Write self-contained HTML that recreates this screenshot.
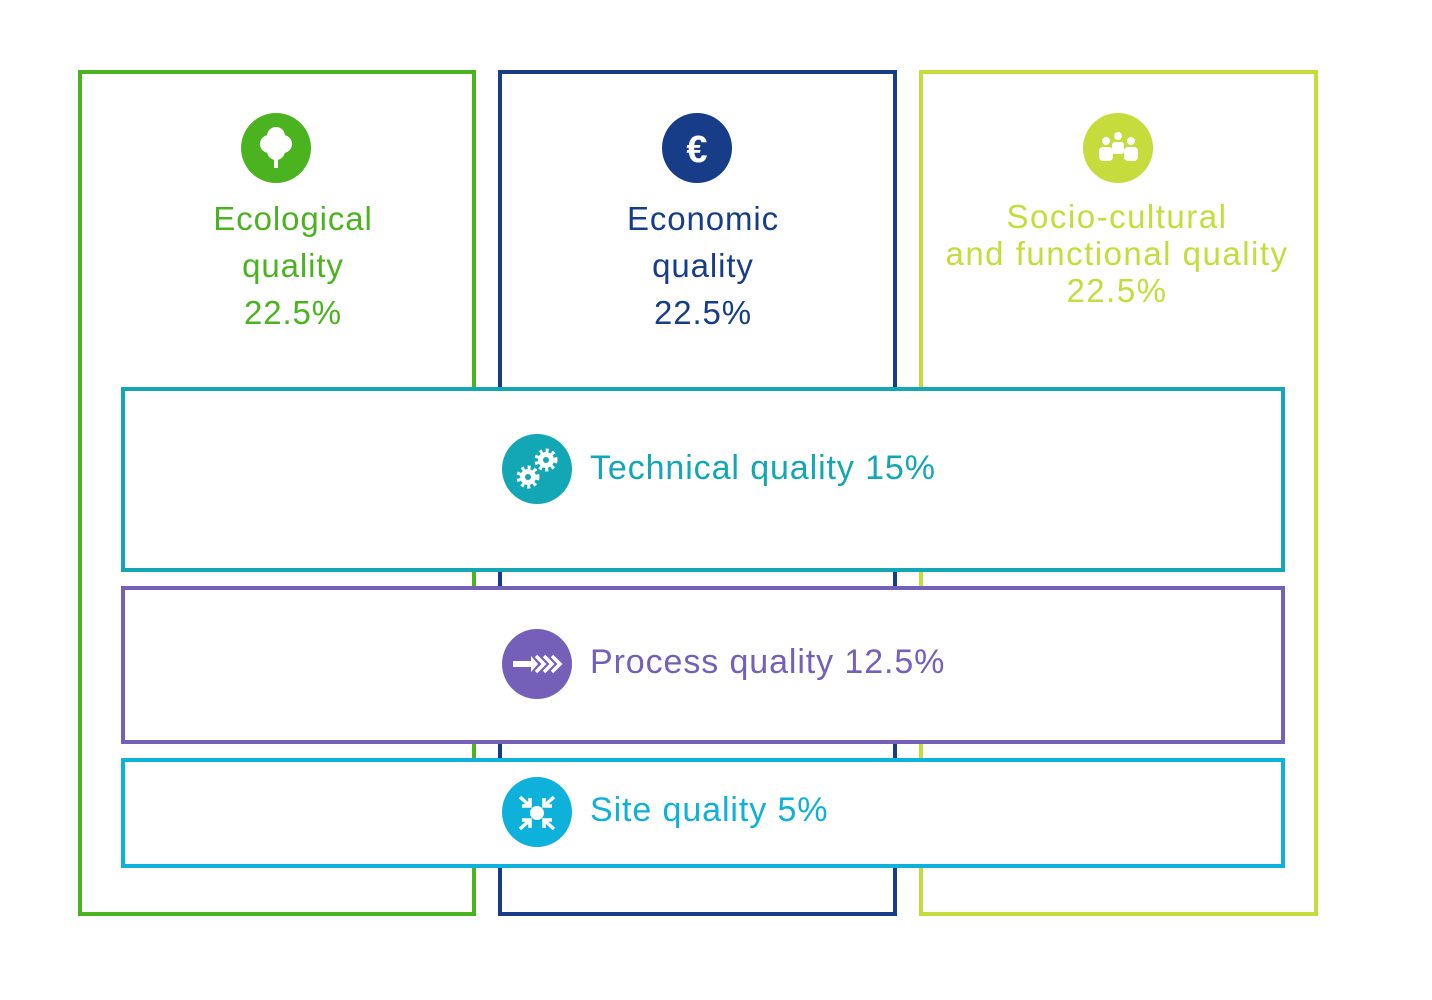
<!DOCTYPE html>
<html><head><meta charset="utf-8"><style>
body{margin:0;width:1432px;height:1000px;background:#fff;position:relative;overflow:hidden;font-family:"Liberation Sans",sans-serif}
.b{position:absolute;box-sizing:border-box;border:4px solid;background:transparent}
.w{background:#fff}
.c{position:absolute;width:70px;height:70px;border-radius:50%}
.t{position:absolute;text-align:center;font-size:33px;line-height:47px;letter-spacing:0.9px}
.l{position:absolute;font-size:34px;line-height:40px;white-space:nowrap;letter-spacing:0.9px}
svg{position:absolute;left:0;top:0}
</style></head><body>
<div class="b" style="left:78px;top:70px;width:398px;height:846px;border-color:#4cb320"></div>
<div class="b" style="left:498px;top:70px;width:399px;height:846px;border-color:#173d88"></div>
<div class="b" style="left:919px;top:70px;width:399px;height:846px;border-color:#c5dc3c"></div>
<div class="b w" style="left:121px;top:387px;width:1164px;height:185px;border-color:#13a7b6"></div>
<div class="b w" style="left:121px;top:586px;width:1164px;height:158px;border-color:#7560b9"></div>
<div class="b w" style="left:121px;top:758px;width:1164px;height:110px;border-color:#0db1d9"></div>

<div class="c" style="left:241px;top:113px;background:#4cb320"></div>
<div class="c" style="left:662px;top:113px;background:#173d88"></div>
<div class="c" style="left:1083px;top:113px;background:#c5dc3c"></div>
<div class="c" style="left:502px;top:434px;background:#13a7b6"></div>
<div class="c" style="left:502px;top:629px;background:#7560b9"></div>
<div class="c" style="left:502px;top:777px;background:#0db1d9"></div>

<svg width="1432" height="1000">
 <g fill="#fff">
  <circle cx="269" cy="144" r="9"/><circle cx="283" cy="144" r="9"/><circle cx="276" cy="136" r="9"/><circle cx="276" cy="151" r="9"/>
  <rect x="274" y="150" width="4" height="18"/>
  <circle cx="1106" cy="141" r="4"/><circle cx="1118" cy="136" r="4"/><circle cx="1131" cy="141" r="4"/>
  <rect x="1099" y="147" width="14" height="14" rx="4"/><rect x="1124" y="147" width="14" height="14" rx="4"/><rect x="1112" y="142" width="12" height="12" rx="3"/>
  <circle cx="528" cy="477" r="8"/><circle cx="546" cy="460" r="8"/>
  <circle cx="537" cy="813" r="7"/>
  <polygon points="513,661 531,661 531,656 538,664 531,672 531,667 513,667"/>
 </g>
 <g stroke="#fff" stroke-width="4" stroke-dasharray="3 3.3">
  <circle cx="528" cy="477" r="9.5" fill="none"/><circle cx="546" cy="460" r="9.5" fill="none"/>
 </g>
 <g fill="#13a7b6"><circle cx="528" cy="477" r="3"/><circle cx="546" cy="460" r="3"/></g>
 <g stroke="#fff" stroke-width="3.5" fill="none">
  <polyline points="536,656 544,664 536,672"/><polyline points="544,656 552,664 544,672"/><polyline points="552,656 560,664 552,672"/>
  <path d="M520 797 L530 806 M530 798 L530 806 L522 806 M554 797 L544 806 M544 798 L544 806 L552 806 M520 829 L530 820 M530 828 L530 820 L522 820 M554 829 L544 820 M544 828 L544 820 L552 820"/>
 </g>
 <text x="697" y="162" font-size="38" font-weight="bold" fill="#fff" text-anchor="middle" font-family="Liberation Sans">€</text>
</svg>

<div class="t" style="left:143px;width:300px;top:195px;color:#4cb320">Ecological<br>quality<br>22.5%</div>
<div class="t" style="left:553px;width:300px;top:195px;color:#173d88">Economic<br>quality<br>22.5%</div>
<div class="t" style="left:907px;width:420px;top:198px;color:#c5dc3c;line-height:37px;letter-spacing:1.5px">Socio-cultural<br>and functional quality<br>22.5%</div>
<div class="l" style="left:590px;top:448px;color:#13a7b6">Technical quality 15%</div>
<div class="l" style="left:590px;top:642px;color:#7560b9">Process quality 12.5%</div>
<div class="l" style="left:590px;top:790px;color:#0db1d9">Site quality 5%</div>
</body></html>
